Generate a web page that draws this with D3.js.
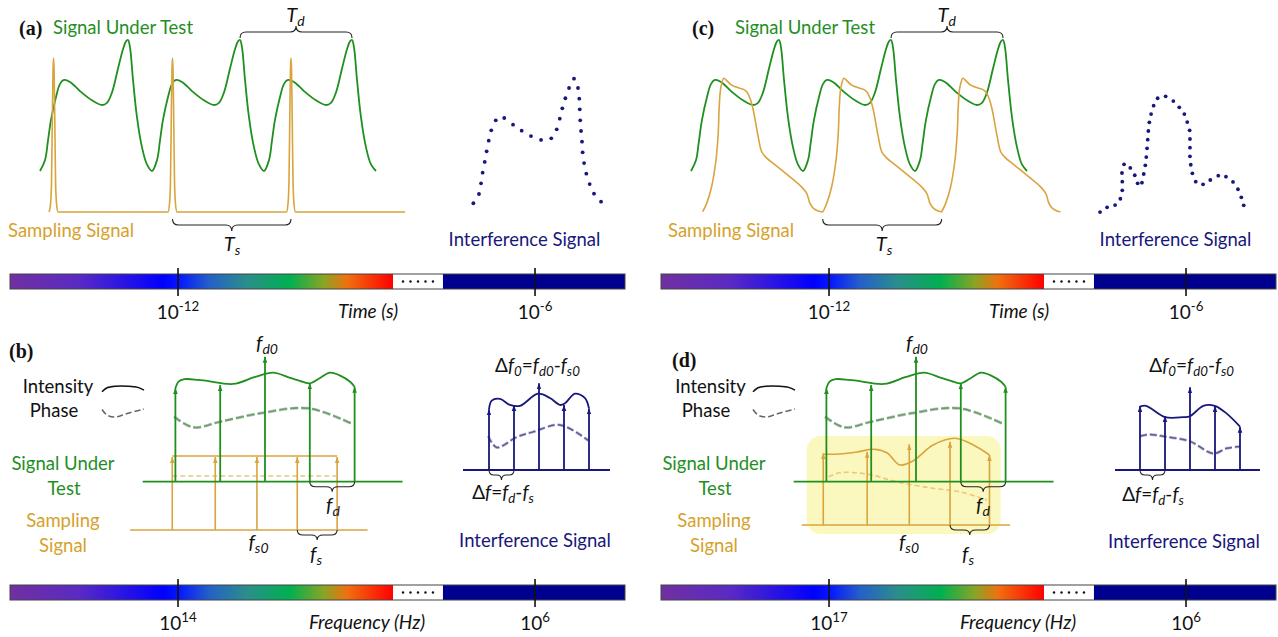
<!DOCTYPE html>
<html>
<head>
<meta charset="utf-8">
<script src="https://d3js.org/d3.v7.min.js"></script>
<style>
  body { margin: 0; background: #fff; }
  text { font-family: Lato, "Open Sans", sans-serif; }
</style>
</head>
<body>
<svg width="1278" height="637"></svg>
<script>
const GREEN = "#1f8f1f", GOLD = "#d9a43e", GOLDTXT = "#d6a12c", NAVY = "#17177c", BARNAVY = "#00008e";

// ---------- time domain (a, c): t in units of Td, amplitude relative to SUT peak ----------
const sutPeriod = [[0,0],[0.045,0.084],[0.071,0.23],[0.098,0.39],[0.143,0.565],[0.179,0.665],[0.214,0.695],
  [0.268,0.68],[0.357,0.61],[0.464,0.54],[0.554,0.504],[0.598,0.52],[0.643,0.6],[0.696,0.78],[0.741,0.93],
  [0.768,0.99],[0.786,1],[0.804,0.94],[0.83,0.7],[0.866,0.41],[0.911,0.18],[0.955,0.05],[1,0]];
const sutPeriodStarts = [0, 1, 2];

const samplingPulseA = [[-0.040,-0.313],[-0.027,-0.254],[-0.018,-0.078],[-0.011,0.393],[-0.005,0.769],[0,0.863],
  [0.005,0.769],[0.011,0.393],[0.018,-0.078],[0.027,-0.254],[0.040,-0.313]];
const samplingCentresA = [0.121, 1.183, 2.241];
const samplingEndA = 3.26;

const samplingPulseC = [[0,-0.311],[0.036,-0.247],[0.08,-0.12],[0.119,0.084],[0.139,0.29],[0.148,0.49],[0.163,0.64],
  [0.19,0.708],[0.215,0.69],[0.259,0.656],[0.333,0.631],[0.36,0.625],[0.393,0.605],[0.425,0.55],[0.452,0.466],
  [0.475,0.36],[0.496,0.262],[0.527,0.147],[0.57,0.1],[0.63,0.058],[0.7,0.01],[0.779,-0.044],[0.866,-0.107],
  [0.929,-0.17],[0.958,-0.247],[0.99,-0.285],[1.03,-0.305],[1.062,-0.311]];
const samplingStartsC = [0.104, 1.176, 2.238];

const interferenceA = [[14.6,8.4],[18.1,15],[19.4,22.6],[20.4,30.2],[21.7,37.9],[22.9,45.5],[24.2,53.1],[25.8,60.5],
  [28.6,67.6],[33.9,69.3],[39.4,64.5],[44.8,60.2],[50.6,56.4],[56.9,53.6],[63.3,54.8],[66.7,61.2],[68.6,68.8],
  [70.2,76.2],[72.1,83.4],[74.4,90.7],[77.5,97.4],[80,90.7],[80.8,83.1],[81.1,75.5],[81.4,67.6],[81.9,60],
  [82.5,52.4],[82.9,44.8],[83.8,37.1],[85.2,29.5],[87.3,22.1],[90,15.2],[94.4,9.5]];
const interferenceC = [[-0.6,2.1],[3.8,5.5],[8.8,7.1],[12.1,11.6],[13.3,17.6],[13.3,23.8],[13.1,30],[14.4,36.2],
  [18.3,33.6],[21.1,28.4],[22.9,22.6],[25.6,23.1],[26.7,29.3],[27.7,35.5],[28.3,41.4],[28.8,47.6],[29.2,53.8],
  [29.6,60],[30.2,66.2],[31.3,72.1],[32.9,78.1],[35.4,83.4],[40.4,84.8],[45.2,81.4],[48.9,76.9],[52.1,72.1],
  [53.9,66.4],[55.4,60.5],[55.6,54.3],[55.6,48.1],[55.6,41.9],[56.1,35.9],[57.1,29.8],[59.2,23.8],[63.8,21.9],
  [68.3,25],[73.3,28.1],[78.1,27.4],[82.5,23.6],[85.6,18.4],[87.7,12.6],[89.2,6.9]];

// ---------- frequency domain (b, d): f in units of fd, amplitude relative to centre line ----------
const combIndex = [-2, -1, 0, 1, 2];
const sutTips = [0.75, 0.774, 1, 0.787, 0.76];
const sutEnvelope = [[-2,0.75],[-1.93,0.80],[-1.8,0.82],[-1.5,0.815],[-1.29,0.806],[-0.71,0.782],[-0.22,0.838],
  [0.18,0.872],[0.56,0.83],[0.85,0.798],[1.0,0.787],[1.23,0.83],[1.45,0.872],[1.7,0.845],[1.9,0.80],[2,0.76]];
const sutPhase = [[-2.03,0.52],[-1.6,0.435],[-1.0,0.48],[-0.11,0.547],[0.97,0.587],[1.97,0.459]];

const samplingFreqB = [-2.07, -1.11, -0.18, 0.72, 1.61];
const samplingTipsB = [0.584, 0.584, 0.584, 0.584, 0.584];
const samplingEnvB = [[-2.07,0.592],[1.61,0.592]];
const samplingPhaseB = [[-2.07,0.432],[1.59,0.432]];

const samplingFreqD = [-2.07, -1.09, -0.15, 0.76, 1.64];
const samplingTipsD = [0.574, 0.586, 0.646, 0.666, 0.56];
const samplingEnvD = [[-2.07,0.566],[-1.7,0.568],[-1.3,0.585],[-0.95,0.606],[-0.65,0.578],[-0.36,0.48],
  [-0.06,0.514],[0.38,0.64],[0.87,0.694],[1.28,0.64],[1.64,0.56]];
const samplingPhaseD = [[-1.95,0.386],[-1.7,0.418],[-1.1,0.408],[-0.43,0.346],[0.38,0.294],[0.98,0.266],[1.58,0.2]];

const interfTipsB = [0.7, 0.75, 1, 0.75, 0.71];
const interfEnvB = [[-2,0.7],[-1.89,0.8],[-1.56,0.82],[-1.16,0.75],[-0.76,0.74],[-0.04,0.88],[0.44,0.83],
  [0.84,0.75],[1.04,0.77],[1.44,0.88],[1.84,0.83],[2,0.71]];
const interfPhaseB = [[-2.03,0.39],[-1.69,0.26],[-0.89,0.38],[-0.23,0.44],[0.84,0.52],[1.97,0.34]];

const interfTipsD = [0.738, 0.623, 0.954, 0.738, 0.5];
const interfEnvD = [[-2,0.73],[-1.76,0.74],[-1.0,0.61],[-0.27,0.61],[0,0.62],[0.53,0.74],[0.99,0.74],
  [1.47,0.65],[2,0.5]];
const interfPhaseD = [[-2,0.39],[-1.63,0.41],[-1.0,0.385],[0,0.33],[0.93,0.19],[1.47,0.25],[2,0.27]];

const legendIntensity = [[0,0.15],[0.12,0.65],[0.32,0.85],[0.63,0.85],[0.85,0.7],[1,0.35]];
const legendPhase = [[0,0.85],[0.12,0.3],[0.32,0.1],[0.6,0.45],[1,0.9]];

// ---------- colour bar ticks ----------
const timeTicks = ["-12", "-6"];
const freqTicksB = ["14", "6"];
const freqTicksD = ["17", "6"];

const svg = d3.select("svg");
const defs = svg.append("defs");

function marker(id, color) {
  defs.append("marker").attr("id", id).attr("viewBox", "0 0 10 10").attr("refX", 10).attr("refY", 5)
    .attr("markerWidth", 6).attr("markerHeight", 6).attr("markerUnits", "userSpaceOnUse").attr("orient", "auto")
    .append("path").attr("d", "M0,1.2L10,5L0,8.8z").attr("fill", color);
}
marker("ag", GREEN); marker("ay", GOLD); marker("an", NAVY);

const grad = defs.append("linearGradient").attr("id", "spec");
[[0,"#7030a0"],[0.18,"#5a2ac4"],[0.40,"#0000ff"],[0.44,"#0616ff"],[0.52,"#2560c8"],[0.62,"#2a8f8a"],
 [0.73,"#00b050"],[0.82,"#8aa424"],[0.88,"#f07010"],[1,"#ff0000"]]
  .forEach(([o, c]) => grad.append("stop").attr("offset", o).attr("stop-color", c));

function brace(g, x1, x2, y, dir, h) {
  const xm = (x1 + x2) / 2, r = Math.min(6, (x2 - x1) / 5), y1 = y + dir * h, y2 = y + dir * 2 * h;
  g.append("path")
    .attr("d", `M${x1},${y}Q${x1},${y1} ${x1 + r},${y1}L${xm - r},${y1}Q${xm},${y1} ${xm},${y2}` +
               `Q${xm},${y1} ${xm + r},${y1}L${x2 - r},${y1}Q${x2},${y1} ${x2},${y}`)
    .attr("fill", "none").attr("stroke", "#222").attr("stroke-width", 1.1);
}

function label(x, y, s, size, fill, anchor) {
  return svg.append("text").attr("x", x).attr("y", y).attr("font-size", size)
    .attr("fill", fill || "#111").attr("text-anchor", anchor || "middle").text(s);
}

function mtext(x, y, parts, size, anchor) {
  const t = svg.append("text").attr("x", x).attr("y", y).attr("font-size", size)
    .attr("text-anchor", anchor || "middle").attr("fill", "#111");
  let shift = 0;
  parts.forEach(([s, st]) => {
    const sub = st.includes("_"), sup = st.includes("^");
    const target = sub ? size * 0.22 : sup ? -size * 0.42 : 0;
    const ts = t.append("tspan").text(s).attr("font-style", st.includes("i") ? "italic" : "normal");
    if (sub || sup) ts.attr("font-size", size * 0.7);
    if (target !== shift) ts.attr("dy", target - shift);
    shift = target;
  });
  return t;
}

function panelLetter(x, y, s) {
  svg.append("text").attr("x", x).attr("y", y).attr("font-size", 20).attr("font-weight", "bold")
    .style("font-family", "'Liberation Serif', serif").attr("fill", "#111").text(s);
}

// ---------- time panels ----------
function timePanel(ox, sampling, tsEdges, interf, sampCurve) {
  const g = svg.append("g").attr("transform", `translate(${ox},0)`);
  const x = d3.scaleLinear([0, 3], [40, 376]);
  const y = d3.scaleLinear([0, 1], [171, 40]);
  const path = c => d3.line().x(d => x(d[0])).y(d => y(d[1])).curve(c);

  const sut = sutPeriodStarts.flatMap((s, i) => sutPeriod.slice(i ? 1 : 0).map(([t, a]) => [s + t, a]));
  g.append("path").attr("d", path(d3.curveCatmullRom.alpha(0.5))(sut)).attr("fill", "none")
    .attr("stroke", GREEN).attr("stroke-width", 1.8);
  g.append("path").attr("d", path(sampCurve)(sampling)).attr("fill", "none")
    .attr("stroke", GOLD).attr("stroke-width", 1.6);

  const peakT = sutPeriod.reduce((m, d) => d[1] > m[1] ? d : m)[0];
  brace(g, x(sutPeriodStarts[1] + peakT), x(sutPeriodStarts[2] + peakT), 38, -1, 6);
  brace(g, x(tsEdges[0]), x(tsEdges[1]), 219, 1, 6);

  const ix = d3.scaleLinear([0, 100], [450, 610]), iy = d3.scaleLinear([0, 100], [215, 75]);
  g.selectAll("circle").data(interf).join("circle")
    .attr("cx", d => ix(d[0])).attr("cy", d => iy(d[1])).attr("r", 1.9).attr("fill", NAVY);
}

const samplingA = samplingCentresA.flatMap(c => samplingPulseA.map(([dt, a]) => [c + dt, a]))
  .concat([[samplingEndA, samplingPulseA[0][1]]]);
const samplingC = samplingStartsC.flatMap(s => samplingPulseC.map(([dt, a]) => [s + dt, a]));

timePanel(0, samplingA, [samplingCentresA[1], samplingCentresA[2]], interferenceA, d3.curveMonotoneX);
timePanel(651, samplingC, [samplingStartsC[1], samplingStartsC[2]], interferenceC, d3.curveCatmullRom.alpha(0.5));

// ---------- frequency panels ----------
function freqPanel(ox, o) {
  const g = svg.append("g").attr("transform", `translate(${ox},0)`);
  const fx = d3.scaleLinear([-3, 3], [130.6, 399.4]);
  const fy = d3.scaleLinear([0, 1], [481.7, 356.7]);
  const sy = d3.scaleLinear([0, 1], [o.sampBase, o.sampBase - 125]);
  const ix = d3.scaleLinear([-3, 3], [464, 614]);
  const iy = d3.scaleLinear([0, 1], [470, 383.3]);
  const smooth = (sx, syy) => d3.line().x(d => sx(d[0])).y(d => syy(d[1])).curve(d3.curveCatmullRom.alpha(0.5));

  if (o.highlight) g.append("rect").attr("x", 155.7).attr("y", 436).attr("width", 194).attr("height", 98)
    .attr("rx", 14).attr("fill", "#fbf8bf");

  // sampling comb
  g.append("line").attr("x1", fx(o.sampSpan[0])).attr("x2", fx(o.sampSpan[1]))
    .attr("y1", sy(0)).attr("y2", sy(0)).attr("stroke", GOLD).attr("stroke-width", 1.6);
  g.append("path").attr("d", smooth(fx, sy)(o.sampPhase)).attr("fill", "none").attr("stroke", "#ecc777")
    .attr("stroke-width", 1.6).attr("stroke-dasharray", "5,3");
  g.append("path").attr("d", smooth(fx, sy)(o.sampEnv)).attr("fill", "none").attr("stroke", GOLD).attr("stroke-width", 1.6);
  g.selectAll(".sa").data(o.sampFreq).join("line").attr("class", "sa")
    .attr("x1", d => fx(d)).attr("x2", d => fx(d)).attr("y1", sy(0)).attr("y2", (d, i) => sy(o.sampTips[i]))
    .attr("stroke", GOLD).attr("stroke-width", 1.6).attr("marker-end", "url(#ay)");

  // signal under test comb
  g.append("line").attr("x1", fx(-2.73)).attr("x2", fx(3.07)).attr("y1", fy(0)).attr("y2", fy(0))
    .attr("stroke", GREEN).attr("stroke-width", 1.8);
  g.append("path").attr("d", smooth(fx, fy)(sutPhase)).attr("fill", "none").attr("stroke", "#a0aaa0")
    .attr("stroke-width", 3).attr("stroke-dasharray", "8,3").attr("opacity", 0.7);
  g.append("path").attr("d", smooth(fx, fy)(sutPhase)).attr("fill", "none").attr("stroke", "#67a267")
    .attr("stroke-width", 1.6).attr("stroke-dasharray", "8,3");
  g.append("path").attr("d", smooth(fx, fy)(sutEnvelope)).attr("fill", "none").attr("stroke", GREEN).attr("stroke-width", 1.8);
  g.selectAll(".ga").data(combIndex).join("line").attr("class", "ga")
    .attr("x1", d => fx(d)).attr("x2", d => fx(d)).attr("y1", fy(0)).attr("y2", (d, i) => fy(sutTips[i]))
    .attr("stroke", GREEN).attr("stroke-width", 1.8).attr("marker-end", "url(#ag)");

  brace(g, fx(combIndex[3]), fx(combIndex[4]), fy(0), 1, 5);
  brace(g, fx(o.sampFreq[3]), fx(o.sampFreq[4]), sy(0), 1, 5);

  // interference comb
  g.append("line").attr("x1", ix(o.intSpan[0])).attr("x2", ix(o.intSpan[1])).attr("y1", iy(0)).attr("y2", iy(0))
    .attr("stroke", NAVY).attr("stroke-width", 1.8);
  g.append("path").attr("d", smooth(ix, iy)(o.intPhase)).attr("fill", "none").attr("stroke", "#c4a8c4")
    .attr("stroke-width", 3).attr("stroke-dasharray", "7,3").attr("opacity", 0.8);
  g.append("path").attr("d", smooth(ix, iy)(o.intPhase)).attr("fill", "none").attr("stroke", "#5a5a9c")
    .attr("stroke-width", 1.5).attr("stroke-dasharray", "7,3");
  g.append("path").attr("d", smooth(ix, iy)(o.intEnv)).attr("fill", "none").attr("stroke", NAVY).attr("stroke-width", 1.8);
  g.selectAll(".na").data(combIndex).join("line").attr("class", "na")
    .attr("x1", d => ix(d)).attr("x2", d => ix(d)).attr("y1", iy(0)).attr("y2", (d, i) => iy(o.intTips[i]))
    .attr("stroke", NAVY).attr("stroke-width", 1.8).attr("marker-end", "url(#an)");
  brace(g, ix(combIndex[0]), ix(combIndex[1]), iy(0), 1, 5);

  // legend swatches
  const lx = d3.scaleLinear([0, 1], [102, 144]);
  const lyI = d3.scaleLinear([0, 1], [393, 385]), lyP = d3.scaleLinear([0, 1], [418, 408]);
  g.append("path").attr("d", smooth(lx, lyI)(legendIntensity)).attr("fill", "none").attr("stroke", "#111").attr("stroke-width", 1.5);
  g.append("path").attr("d", smooth(lx, lyP)(legendPhase)).attr("fill", "none").attr("stroke", "#666")
    .attr("stroke-width", 1.6).attr("stroke-dasharray", "6,3");
}

freqPanel(0, { sampBase: 530, sampSpan: [-3.01, 2.29], sampFreq: samplingFreqB, sampTips: samplingTipsB,
  sampEnv: samplingEnvB, sampPhase: samplingPhaseB, intSpan: [-3.04, 2.84], intTips: interfTipsB,
  intEnv: interfEnvB, intPhase: interfPhaseB, highlight: false });
freqPanel(651, { sampBase: 525, sampSpan: [-2.55, 2.10], sampFreq: samplingFreqD, sampTips: samplingTipsD,
  sampEnv: samplingEnvD, sampPhase: samplingPhaseD, intSpan: [-3.0, 2.8], intTips: interfTipsD,
  intEnv: interfEnvD, intPhase: interfPhaseD, highlight: true });

// ---------- colour bars ----------
function colorBar(x0, y0, ticks, name, nameX) {
  const bx = d3.scaleLinear([0, 1], [x0, x0 + 615]);
  const h = 15, gap = [0.6228, 0.704], tickAt = [0.2732, 0.8537];
  svg.append("rect").attr("x", bx(0)).attr("y", y0).attr("width", bx(gap[0]) - bx(0)).attr("height", h).attr("fill", "url(#spec)");
  svg.append("rect").attr("x", bx(gap[0])).attr("y", y0).attr("width", bx(gap[1]) - bx(gap[0])).attr("height", h).attr("fill", "#fff");
  svg.append("rect").attr("x", bx(gap[1])).attr("y", y0).attr("width", bx(1) - bx(gap[1])).attr("height", h).attr("fill", BARNAVY);
  svg.append("rect").attr("x", bx(0)).attr("y", y0).attr("width", bx(1) - bx(0)).attr("height", h)
    .attr("fill", "none").attr("stroke", "#444").attr("stroke-width", 1);
  const gx = d3.scaleLinear([0, 4], [bx(gap[0]) + 10, bx(gap[1]) - 10]);
  svg.selectAll(null).data([0, 1, 2, 3, 4]).join("circle").attr("cx", d => gx(d)).attr("cy", y0 + h / 2)
    .attr("r", 1.2).attr("fill", "#111");
  ticks.forEach((tk, i) => {
    svg.append("line").attr("x1", bx(tickAt[i])).attr("x2", bx(tickAt[i])).attr("y1", y0 - 6).attr("y2", y0 + h + 7)
      .attr("stroke", "#111").attr("stroke-width", 1.6);
    mtext(bx(tickAt[i]), y0 + h + 30, [["10", "n"], [tk, "^"]], 19);
  });
  mtext(nameX, y0 + h + 29, [[name, "i"]], 19);
}
colorBar(10, 274, timeTicks, "Time (s)", 368);
colorBar(661, 274, timeTicks, "Time (s)", 1019);
colorBar(10, 585, freqTicksB, "Frequency (Hz)", 367);
colorBar(661, 585, freqTicksD, "Frequency (Hz)", 1018);

// ---------- labels ----------
panelLetter(19, 35, "(a)"); panelLetter(692, 35, "(c)");
panelLetter(9, 358, "(b)"); panelLetter(672, 367, "(d)");

label(53, 34, "Signal Under Test", 18.5, GREEN, "start");
label(735, 34, "Signal Under Test", 18.5, GREEN, "start");
label(8, 237, "Sampling Signal", 18.5, GOLDTXT, "start");
label(668, 237, "Sampling Signal", 18.5, GOLDTXT, "start");
label(524.5, 246, "Interference Signal", 18.5, NAVY);
label(1175.5, 246, "Interference Signal", 18.5, NAVY);

mtext(295.5, 22, [["T", "i"], ["d", "i_"]], 20);
mtext(232, 251, [["T", "i"], ["s", "i_"]], 20);
mtext(946.7, 22, [["T", "i"], ["d", "i_"]], 20);
mtext(884, 251, [["T", "i"], ["s", "i_"]], 20);

[[0, 63, 58, 54], [651, 714, 710.5, 706]].forEach(([ox, cx, ix, px]) => {
  label(ix, 393, "Intensity", 18.5);
  label(px, 416.5, "Phase", 18.5);
  label(cx, 470, "Signal Under", 18.5, GREEN);
  label(cx + 1, 495, "Test", 18.5, GREEN);
  label(cx, 527, "Sampling", 18.5, GOLDTXT);
  label(cx, 552, "Signal", 18.5, GOLDTXT);
});

mtext(267, 350, [["f", "i"], ["d0", "i_"]], 20);
mtext(917, 350, [["f", "i"], ["d0", "i_"]], 20);
mtext(333, 512, [["f", "i"], ["d", "i_"]], 20);
mtext(983, 512, [["f", "i"], ["d", "i_"]], 20);
mtext(316, 561, [["f", "i"], ["s", "i_"]], 20);
mtext(968, 561, [["f", "i"], ["s", "i_"]], 20);
mtext(258.5, 549, [["f", "i"], ["s0", "i_"]], 20);
mtext(909, 549, [["f", "i"], ["s0", "i_"]], 20);

const df0 = [["Δ", "n"], ["f", "i"], ["0", "i_"], ["=", "n"], ["f", "i"], ["d0", "i_"], ["-", "n"], ["f", "i"], ["s0", "i_"]];
const df = [["Δ", "n"], ["f", "i"], ["=", "n"], ["f", "i"], ["d", "i_"], ["-", "n"], ["f", "i"], ["s", "i_"]];
mtext(537.5, 372, df0, 19);
mtext(1191.7, 372, df0, 19);
mtext(503, 499, df, 19);
mtext(1153, 501, df, 19);
label(535, 547, "Interference Signal", 18.5, NAVY);
label(1184, 548, "Interference Signal", 18.5, NAVY);
</script>
</body>
</html>
